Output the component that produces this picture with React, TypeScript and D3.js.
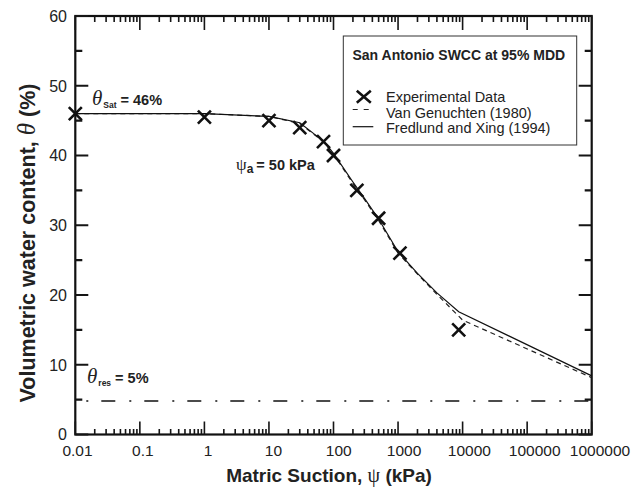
import React, { useEffect, useRef } from 'react';
import * as d3 from 'd3';

// axis ticks / labels
const suctionMajor = [0.01, 0.1, 1, 10, 100, 1000, 10000, 100000, 1000000];
const suctionLabels = ['0.01', '0.1', '1', '10', '100', '1000', '10000', '100000', '1000000'];
const thetaMajor = [0, 10, 20, 30, 40, 50, 60];
const thetaMinor = [5, 15, 25, 35, 45, 55];

// experimental points (kPa, %)
const expSuction = [0.01, 1, 10, 30, 70, 100, 230, 500, 1070, 8700];
const expTheta = [46, 45.5, 45, 44, 42, 40, 35, 31, 26, 15];

// Fredlund and Xing (1994)
const fxSuction = [0.01, 1, 10, 30, 50, 70, 100, 200, 300, 500, 1000, 2000, 4000, 8700, 1000000];
const fxTheta = [46, 46, 45.6, 44.7, 43.1, 42.1, 40.3, 36.2, 33.9, 30.9, 26.2, 23.1, 20.3, 17.6, 8.4];

// Van Genuchten (1980)
const vgSuction = [0.01, 1, 10, 30, 50, 70, 100, 200, 300, 500, 1000, 2000, 4000, 10000, 1000000];
const vgTheta = [46, 46, 45.6, 44.6, 43.0, 42.0, 40.2, 36.0, 33.7, 30.7, 26.0, 23.0, 20.1, 16.4, 8.15];

const thetaResLine = 4.8;

const SANS = "Arial, 'Liberation Sans', Helvetica, sans-serif";
const SERIF = "'Liberation Serif', 'DejaVu Serif', serif";

export default function App() {
  const ref = useRef<SVGSVGElement>(null);

  useEffect(() => {
    const svg = d3.select(ref.current);
    svg.selectAll('*').remove();

    const x = d3.scaleLog().domain([0.01, 1000000]).range([75.3, 591.7]);
    const xLab = d3.scaleLog().domain([0.01, 1000000]).range([77.5, 600]);
    const y = d3.scaleLinear().domain([0, 60]).range([434.5, 16]);
    const left = x(0.01), right = x(1000000);
    const bottom = y(0), top = y(60);

    const g = svg.append('g');

    // dash-dot residual line
    g.append('line')
      .attr('x1', left).attr('x2', right)
      .attr('y1', y(thetaResLine)).attr('y2', y(thetaResLine))
      .attr('stroke', '#111').attr('stroke-width', 1.3)
      .attr('stroke-dasharray', '14 14 2 13')
      .attr('stroke-dashoffset', 17);

    const curve = d3.line<number[]>().x(d => x(d[0])).y(d => y(d[1]));

    g.append('path')
      .attr('d', curve(vgSuction.map((s, i) => [s, vgTheta[i]])))
      .attr('fill', 'none').attr('stroke', '#222').attr('stroke-width', 1.2)
      .attr('stroke-dasharray', '5 4');

    g.append('path')
      .attr('d', curve(fxSuction.map((s, i) => [s, fxTheta[i]])))
      .attr('fill', 'none').attr('stroke', '#111').attr('stroke-width', 1.2);

    const crossPath = (w: number, h: number) => `M${-w},${-h}L${w},${h}M${-w},${h}L${w},${-h}`;

    g.selectAll('.pt')
      .data(expSuction.map((s, i) => [s, expTheta[i]]))
      .join('path')
      .attr('class', 'pt')
      .attr('transform', d => `translate(${x(d[0])},${y(d[1])})`)
      .attr('d', crossPath(6.5, 6.5))
      .attr('stroke', '#111').attr('stroke-width', 2.6).attr('fill', 'none');

    // frame
    g.append('rect')
      .attr('x', left).attr('y', top)
      .attr('width', right - left).attr('height', bottom - top)
      .attr('fill', 'none').attr('stroke', '#111').attr('stroke-width', 2.2);

    // inward ticks on all four sides, each set as one path
    const decade = (v: number) => Math.abs(Math.log10(v) - Math.round(Math.log10(v))) < 1e-6;
    const xTickPath = x.ticks(20).map(v => {
      const px = x(v);
      const lb = decade(v) ? 13 : 5.5;
      const lt = decade(v) ? 14 : 6;
      return `M${px},${bottom}V${bottom - lb}M${px},${top}V${top + lt}`;
    }).join('');
    g.append('path')
      .attr('d', xTickPath)
      .attr('fill', 'none').attr('stroke', '#151515').attr('stroke-width', 1.6);

    const yTickPath = thetaMajor.concat(thetaMinor).map(v => {
      const py = y(v);
      const len = v % 10 === 0 ? 13 : 7;
      return `M${left},${py}H${left + len}M${right},${py}H${right - len}`;
    }).join('');
    g.append('path')
      .attr('d', yTickPath)
      .attr('fill', 'none').attr('stroke', '#151515').attr('stroke-width', 2.1);

    // tick labels
    g.selectAll('.xl')
      .data(suctionMajor)
      .join('text')
      .attr('class', 'xl')
      .attr('x', d => xLab(d)).attr('y', 456)
      .attr('text-anchor', 'middle')
      .attr('font-family', SANS).attr('font-size', 15.5).attr('fill', '#222')
      .text((d, i) => suctionLabels[i]);

    g.selectAll('.yl')
      .data(thetaMajor)
      .join('text')
      .attr('class', 'yl')
      .attr('x', 67).attr('y', d => y(d))
      .attr('dy', '0.36em')
      .attr('text-anchor', 'end')
      .attr('font-family', SANS).attr('font-size', 16).attr('fill', '#222')
      .text(d => d);

    // axis titles
    const xTitle = g.append('text')
      .attr('x', 329).attr('y', 482)
      .attr('text-anchor', 'middle')
      .attr('font-family', SANS).attr('font-size', 19).attr('font-weight', 'bold').attr('fill', '#222');
    xTitle.append('tspan').text('Matric Suction, ');
    xTitle.append('tspan').attr('font-weight', 'normal').attr('font-family', SERIF).attr('font-size', 20).text('ψ');
    xTitle.append('tspan').text(' (kPa)');

    const yTitle = g.append('text')
      .attr('transform', 'translate(35,243) rotate(-90)')
      .attr('text-anchor', 'middle')
      .attr('font-family', SANS).attr('font-size', 21.5).attr('font-weight', 'bold').attr('fill', '#222');
    yTitle.append('tspan').text('Volumetric water content, ');
    yTitle.append('tspan').attr('font-weight', 'normal').attr('font-style', 'italic')
      .attr('font-family', SERIF).attr('font-size', 25).text('θ');
    yTitle.append('tspan').text(' (%)');

    // annotations
    const sat = g.append('text').attr('x', 92).attr('y', 105)
      .attr('font-family', SANS).attr('fill', '#222');
    sat.append('tspan').attr('font-family', SERIF).attr('font-style', 'italic').attr('font-size', 21).text('θ');
    sat.append('tspan').attr('font-size', 8.5).attr('font-weight', 'bold').attr('dx', 1).attr('dy', 3).text('Sat');
    sat.append('tspan').attr('font-size', 14.5).attr('font-weight', 'bold').attr('dx', 4).attr('dy', -3).text('= 46%');

    const res = g.append('text').attr('x', 87).attr('y', 383)
      .attr('font-family', SANS).attr('fill', '#222');
    res.append('tspan').attr('font-family', SERIF).attr('font-style', 'italic').attr('font-size', 21).text('θ');
    res.append('tspan').attr('font-size', 8.5).attr('font-weight', 'bold').attr('dx', 1).attr('dy', 3).text('res');
    res.append('tspan').attr('font-size', 14.5).attr('font-weight', 'bold').attr('dx', 4).attr('dy', -3).text('= 5%');

    const psi = g.append('text').attr('x', 236).attr('y', 169.5)
      .attr('font-family', SANS).attr('fill', '#222');
    psi.append('tspan').attr('font-family', SERIF).attr('font-size', 17).text('ψ');
    psi.append('tspan').attr('font-size', 12).attr('font-weight', 'bold').attr('dy', 3).text('a');
    psi.append('tspan').attr('font-size', 14.5).attr('font-weight', 'bold').attr('dx', 3).attr('dy', -3).text('= 50 kPa');

    // legend
    const lg = g.append('g');
    lg.append('rect')
      .attr('x', 343.3).attr('y', 36).attr('width', 233.4).attr('height', 109)
      .attr('fill', 'white').attr('stroke', '#333').attr('stroke-width', 1);
    lg.append('text').attr('x', 352.5).attr('y', 59.5)
      .attr('font-family', SANS).attr('font-size', 14).attr('font-weight', 'bold').attr('fill', '#222')
      .text('San Antonio SWCC at 95% MDD');
    lg.append('path')
      .attr('transform', 'translate(363.8,96.7)')
      .attr('d', crossPath(7, 6))
      .attr('stroke', '#111').attr('stroke-width', 2.6).attr('fill', 'none');
    lg.append('line').attr('x1', 352.7).attr('x2', 371).attr('y1', 109.5).attr('y2', 109.5)
      .attr('stroke', '#222').attr('stroke-width', 1.2).attr('stroke-dasharray', '5 6');
    lg.append('line').attr('x1', 352.7).attr('x2', 373.3).attr('y1', 126.7).attr('y2', 126.7)
      .attr('stroke', '#111').attr('stroke-width', 1.2);
    const entries = ['Experimental Data', 'Van Genuchten (1980)', 'Fredlund and Xing (1994)'];
    lg.selectAll('.le')
      .data(entries)
      .join('text')
      .attr('class', 'le')
      .attr('x', 386).attr('y', (d, i) => 101.7 + i * 15.8)
      .attr('font-family', SANS).attr('font-size', 14.5).attr('fill', '#222')
      .text(d => d);
  }, []);

  return (
    <svg
      ref={ref}
      width={644}
      height={490}
      style={{ position: 'absolute', left: 0, top: 0 }}
    />
  );
}
